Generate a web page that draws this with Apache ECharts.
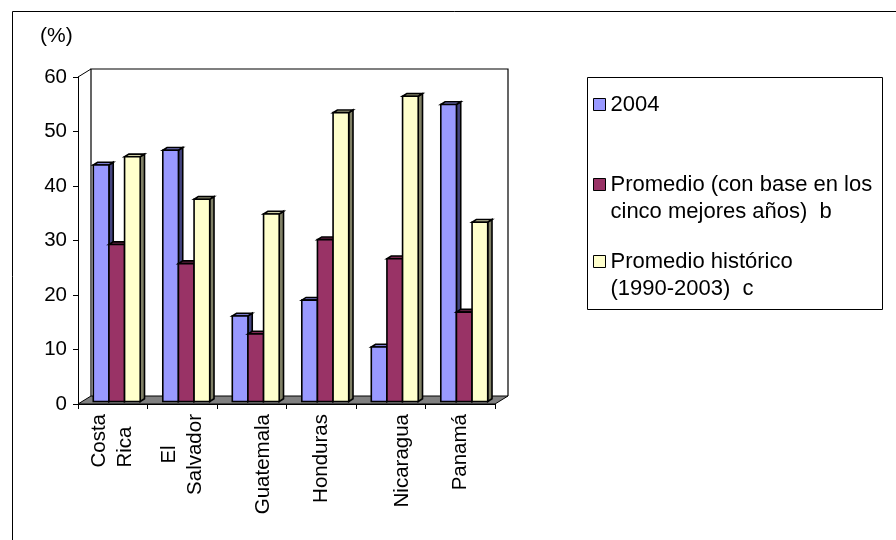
<!DOCTYPE html>
<html>
<head>
<meta charset="utf-8">
<script src="https://cdn.jsdelivr.net/npm/echarts@6/dist/echarts.min.js"></script>
<style>
  html, body { margin: 0; padding: 0; background: #ffffff; }
  #chart { width: 896px; height: 540px; }
</style>
</head>
<body>
<div id="chart"></div>
<script>
// ---- data -------------------------------------------------------------
const categories = ['Costa\nRica', 'El\nSalvador', 'Guatemala', 'Honduras', 'Nicaragua', 'Panamá'];
const seriesNames = [
  '2004',
  'Promedio (con base en los cinco mejores años)  b',
  'Promedio histórico (1990-2003)  c'
];
const legendLabels = [
  '2004',
  'Promedio (con base en los\ncinco mejores años)  b',
  'Promedio histórico\n(1990-2003)  c'
];
const values2004  = [43.4, 46.1, 15.7, 18.6, 10.0, 54.5];
const valuesBest5 = [28.8, 25.3, 12.4, 29.7, 26.2, 16.4];
const valuesHist  = [44.9, 37.1, 34.4, 53.0, 56.0, 32.9];
const yTicks = [0, 10, 20, 30, 40, 50, 60];
const yUnit = '(%)';

// ---- styling ----------------------------------------------------------
const FONT = '"Liberation Sans", Arial, sans-serif';
const AXIS_FONT_SIZE = 20.5;
const LEGEND_FONT_SIZE = 22;
const faceColors = [
  { front: '#9999FF', side: '#44447F', top: '#7A7ACC' },
  { front: '#993366', side: '#4C1933', top: '#7A2952' },
  { front: '#FFFFCC', side: '#808066', top: '#CCCCA3' }
];
// depth of the 3D box (back wall offset) and of each column
const WALL_DX = 13, WALL_DY = -8;
const COL_OX = 4, COL_OY = -2.5;     // column front face offset from front plane
const COL_SX = 4.3, COL_SY = -2.7;   // column thickness
const BAR_FRAC = 0.225;              // column width as a share of a category band
const EDGE_WIDTH = 1.6;

// per-label line alignment of the rotated category labels
const labelLineAlign = { 'Costa\nRica': 'left', 'El\nSalvador': 'center' };
const labelShifted = { 'Guatemala': true, 'Nicaragua': true };

function columnRenderer(k) {
  const c = faceColors[k];
  return function (params, api) {
    const idx = api.value(0);
    const v = api.value(1);
    const base = api.coord([idx, 0]);
    const top = api.coord([idx, v]);
    const band = api.size([1, 0])[0];
    const bw = band * BAR_FRAC;
    const xL = base[0] - 1.5 * bw + k * bw + COL_OX;
    const xR = xL + bw;
    const yB = base[1] + COL_OY;
    const yT = top[1] + COL_OY;
    const stroke = { stroke: '#000', lineWidth: EDGE_WIDTH, lineJoin: 'miter' };
    return {
      type: 'group',
      children: [
        { type: 'polygon', shape: { points: [[xR, yB], [xR + COL_SX, yB + COL_SY], [xR + COL_SX, yT + COL_SY], [xR, yT]] },
          style: Object.assign({ fill: c.side }, stroke) },
        { type: 'polygon', shape: { points: [[xL, yT], [xR, yT], [xR + COL_SX, yT + COL_SY], [xL + COL_SX, yT + COL_SY]] },
          style: Object.assign({ fill: c.top }, stroke) },
        { type: 'polygon', shape: { points: [[xL, yB], [xR, yB], [xR, yT], [xL, yT]] },
          style: Object.assign({ fill: c.front }, stroke) }
      ]
    };
  };
}

// floor and walls of the 3D box, built from the grid rectangle
function wallRenderer(params) {
  const cs = params.coordSys;
  const x = cs.x, y = cs.y, w = cs.width, h = cs.height;
  return {
    type: 'group',
    children: [
      { type: 'polygon',
        shape: { points: [[x, y + h], [x + w, y + h], [x + w + WALL_DX, y + h + WALL_DY], [x + WALL_DX, y + h + WALL_DY]] },
        style: { fill: '#808080', stroke: '#000', lineWidth: 1 } },
      { type: 'polyline',
        shape: { points: [[x + WALL_DX, y + h + WALL_DY], [x + WALL_DX, y + WALL_DY], [x + w + WALL_DX, y + WALL_DY], [x + w + WALL_DX, y + h + WALL_DY]] },
        style: { fill: null, stroke: '#000', lineWidth: 1.2 } },
      { type: 'line', shape: { x1: x, y1: y, x2: x + WALL_DX, y2: y + WALL_DY },
        style: { stroke: '#000', lineWidth: 1 } }
    ]
  };
}

function categoryLabel(value) {
  if (labelShifted[value]) return '{s|' + value + '}';
  const align = labelLineAlign[value] || 'center';
  return value.split('\n').map(l => '{' + align + '|' + l + '}').join('\n');
}

const seriesData = [values2004, valuesBest5, valuesHist];

const chart = echarts.init(document.getElementById('chart'), null, { renderer: 'canvas' });
const textBase = { fontFamily: FONT, fontSize: AXIS_FONT_SIZE, color: '#000', lineHeight: 26 };

chart.setOption({
  animation: false,
  backgroundColor: '#ffffff',
  title: {
    text: yUnit, left: 40, top: 26, padding: 0,
    textStyle: { fontFamily: FONT, fontSize: 21, fontWeight: 'normal', color: '#000' }
  },
  grid: { left: 78, top: 77, width: 417, height: 327 },
  xAxis: {
    type: 'category',
    data: categories,
    axisLine: { show: true, lineStyle: { color: '#000', width: 1 } },
    axisTick: { show: true, length: 5, interval: 0, lineStyle: { color: '#000' } },
    axisLabel: {
      interval: 0, rotate: 90, margin: 10,
      fontFamily: FONT, fontSize: AXIS_FONT_SIZE, color: '#000', lineHeight: 26,
      formatter: categoryLabel,
      rich: {
        left: Object.assign({ align: 'left' }, textBase),
        center: Object.assign({ align: 'center' }, textBase),
        s: Object.assign({ padding: [23, 0, 0, 0] }, textBase)
      }
    },
    splitLine: { show: false }
  },
  yAxis: {
    type: 'value',
    min: yTicks[0], max: yTicks[yTicks.length - 1], interval: yTicks[1] - yTicks[0],
    axisLine: { show: true, lineStyle: { color: '#000', width: 1 } },
    axisTick: { show: true, length: 5, lineStyle: { color: '#000' } },
    axisLabel: { margin: 11, fontFamily: FONT, fontSize: AXIS_FONT_SIZE, color: '#000' },
    splitLine: { show: false }
  },
  // one legend block per entry so each icon sits beside the first text line
  legend: seriesNames.map((name, i) => ({
    data: [name],
    orient: 'vertical',
    left: 593,
    top: [91, 144, 221][i],
    padding: 0,
    icon: 'rect',
    itemWidth: 12,
    itemHeight: 12,
    selectedMode: false,
    itemStyle: { borderColor: '#000', borderWidth: 1 },
    formatter: () => (legendLabels[i].indexOf('\n') >= 0 ? '\n' : '') + legendLabels[i],
    textStyle: { fontFamily: FONT, fontSize: LEGEND_FONT_SIZE, color: '#000', lineHeight: 27 }
  })),
  graphic: [
    { type: 'rect', left: 10, top: 9, shape: { x: 0.5, y: 0.5, width: 1000, height: 1000 },
      style: { fill: null, stroke: '#000', lineWidth: 1 }, silent: true, z: -10 },
    { type: 'rect', left: 585, top: 75, shape: { x: 0.5, y: 0.5, width: 295, height: 232 },
      style: { fill: null, stroke: '#000', lineWidth: 1 }, silent: true, z: -10 }
  ],
  series: [
    { type: 'custom', name: '__walls', renderItem: wallRenderer, data: [[0, 0]], z: 1, silent: true }
  ].concat(seriesNames.map((name, k) => ({
    type: 'custom',
    name: name,
    renderItem: columnRenderer(k),
    itemStyle: { color: faceColors[k].front },
    encode: { x: 0, y: 1 },
    data: seriesData[k].map((v, i) => [i, v]),
    z: 2
  })))
});
</script>
</body>
</html>
